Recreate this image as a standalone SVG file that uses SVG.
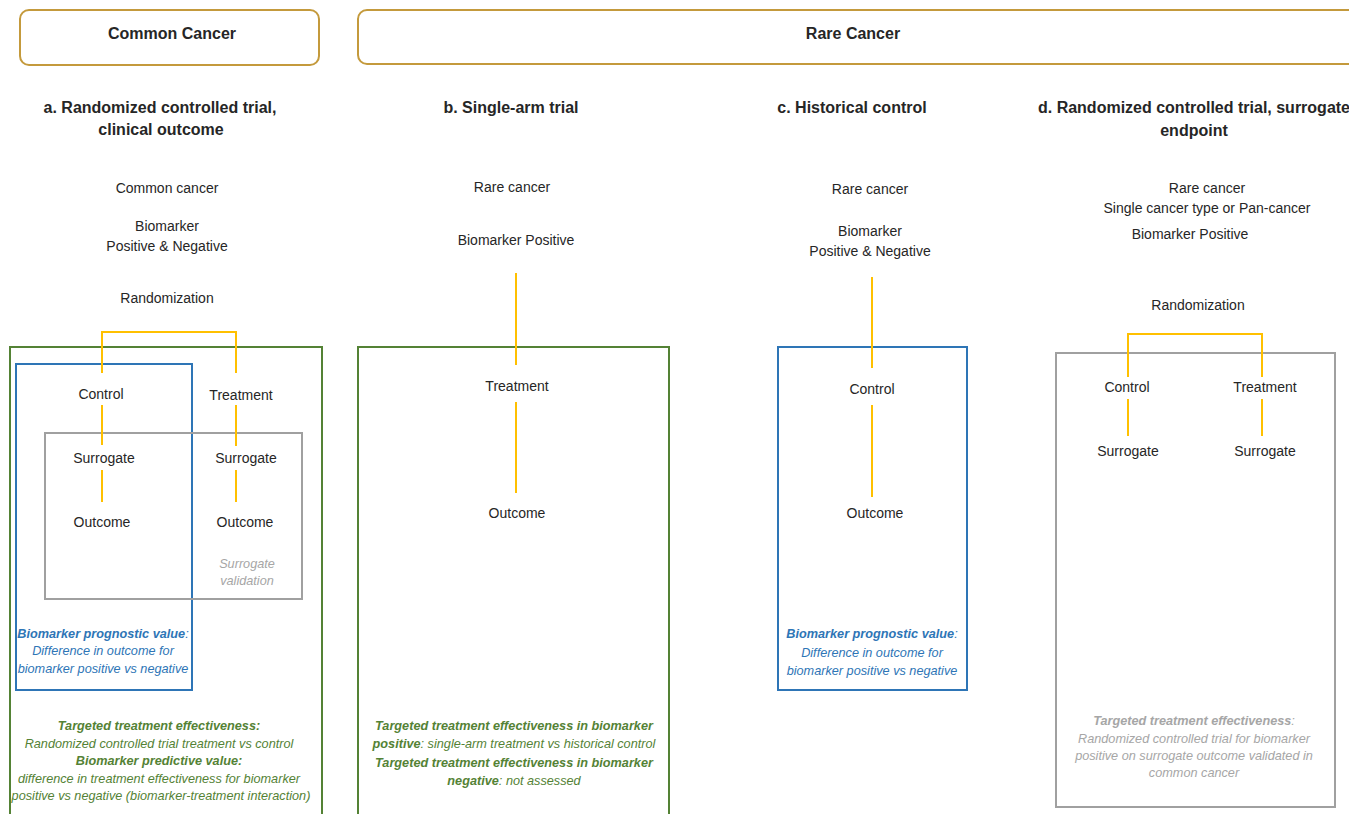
<svg xmlns="http://www.w3.org/2000/svg" width="1349" height="814" viewBox="0 0 1349 814">
<style>
text{font-family:"Liberation Sans",Arial,sans-serif;text-anchor:middle;fill:#262626}
.hd{font-size:16px;font-weight:bold}
.n{font-size:14px}
.an{font-size:12.7px;font-style:italic}
.b{font-weight:bold}
.blue{fill:#2e75b6}
.green{fill:#548235}
.gray{fill:#a6a6a6}
.top{fill:#fff;stroke:#c49a3c;stroke-width:2}
.gbox{fill:none;stroke:#548235;stroke-width:2}
.bbox{fill:none;stroke:#2e75b6;stroke-width:2}
.sbox{fill:none;stroke:#a0a0a0;stroke-width:2}
.con line,.con path{stroke:#ffc000;stroke-width:2;fill:none}
</style>
<rect width="1349" height="814" fill="#fff"/>

<g id="common-cancer-header">
<rect class="top" x="20" y="10" width="299" height="55" rx="9"/>
<text class="hd" x="172" y="39">Common Cancer</text>
</g>
<g id="rare-cancer-header">
<rect class="top" x="358" y="10" width="1010" height="54" rx="9"/>
<text class="hd" x="853" y="39">Rare Cancer</text>
</g>

<g id="titles">
<text class="hd" x="160" y="113">a. Randomized controlled trial,</text>
<text class="hd" x="161" y="135">clinical outcome</text>
<text class="hd" x="511" y="113">b. Single-arm trial</text>
<text class="hd" x="852" y="113">c. Historical control</text>
<text class="hd" x="1194" y="113">d. Randomized controlled trial, surrogate</text>
<text class="hd" x="1194" y="136">endpoint</text>
</g>

<g id="boxes">
<rect id="a-green" class="gbox" x="10" y="347" width="312" height="480"/>
<rect id="a-blue" class="bbox" x="16" y="364" width="176" height="326"/>
<rect id="a-gray" class="sbox" x="45" y="433" width="257" height="166"/>
<rect id="b-green" class="gbox" x="358" y="347" width="311" height="480"/>
<rect id="c-blue" class="bbox" x="778" y="347" width="189" height="343"/>
<rect id="d-gray" class="sbox" x="1056" y="353" width="279" height="454"/>
</g>

<g id="connectors" class="con">
<path d="M102,373 V332 H236 V373"/>
<line x1="102" y1="405" x2="102" y2="445"/>
<line x1="102" y1="470" x2="102" y2="502"/>
<line x1="236" y1="405" x2="236" y2="446"/>
<line x1="236" y1="470" x2="236" y2="502"/>
<line x1="516" y1="273" x2="516" y2="365"/>
<line x1="516" y1="402" x2="516" y2="493"/>
<line x1="872" y1="277" x2="872" y2="368"/>
<line x1="872" y1="405" x2="872" y2="497"/>
<path d="M1128,377 V334 H1262 V377"/>
<line x1="1128" y1="399" x2="1128" y2="436"/>
<line x1="1262" y1="399" x2="1262" y2="436"/>
</g>

<g id="panel-a">
<text class="n" x="167" y="193">Common cancer</text>
<text class="n" x="167" y="231">Biomarker</text>
<text class="n" x="167" y="251">Positive &amp; Negative</text>
<text class="n" x="167" y="303">Randomization</text>
<g id="a-control"><text class="n" x="101" y="399">Control</text></g>
<g id="a-treatment"><text class="n" x="241" y="400">Treatment</text></g>
<g id="a-surrogate-c"><text class="n" x="104" y="463">Surrogate</text></g>
<g id="a-surrogate-t"><text class="n" x="246" y="463">Surrogate</text></g>
<g id="a-outcome-c"><text class="n" x="102" y="527">Outcome</text></g>
<g id="a-outcome-t"><text class="n" x="245" y="527">Outcome</text></g>
<text class="an gray" x="247" y="568">Surrogate</text>
<text class="an gray" x="247" y="585">validation</text>
<text class="an blue" x="103" y="638"><tspan class="b">Biomarker prognostic value</tspan>:</text>
<text class="an blue" x="103" y="655">Difference in outcome for</text>
<text class="an blue" x="103" y="673">biomarker positive vs negative</text>
<text class="an green b" x="159" y="730">Targeted treatment effectiveness:</text>
<text class="an green" x="159" y="748">Randomized controlled trial treatment vs control</text>
<text class="an green b" x="159" y="765">Biomarker predictive value:</text>
<text class="an green" x="159" y="783">difference in treatment effectiveness for biomarker</text>
<text class="an green" x="161" y="800">positive vs negative (biomarker-treatment interaction)</text>
</g>

<g id="panel-b">
<text class="n" x="512" y="192">Rare cancer</text>
<text class="n" x="516" y="245">Biomarker Positive</text>
<g id="b-treatment"><text class="n" x="517" y="391">Treatment</text></g>
<g id="b-outcome"><text class="n" x="517" y="518">Outcome</text></g>
<text class="an green b" x="514" y="730">Targeted treatment effectiveness in biomarker</text>
<text class="an green" x="514" y="748"><tspan class="b">positive</tspan>: single-arm treatment vs historical control</text>
<text class="an green b" x="514" y="767">Targeted treatment effectiveness in biomarker</text>
<text class="an green" x="514" y="785"><tspan class="b">negative</tspan>: not assessed</text>
</g>

<g id="panel-c">
<text class="n" x="870" y="194">Rare cancer</text>
<text class="n" x="870" y="236">Biomarker</text>
<text class="n" x="870" y="256">Positive &amp; Negative</text>
<g id="c-control"><text class="n" x="872" y="394">Control</text></g>
<g id="c-outcome"><text class="n" x="875" y="518">Outcome</text></g>
<text class="an blue" x="872" y="638"><tspan class="b">Biomarker prognostic value</tspan>:</text>
<text class="an blue" x="872" y="657">Difference in outcome for</text>
<text class="an blue" x="872" y="675">biomarker positive vs negative</text>
</g>

<g id="panel-d">
<text class="n" x="1207" y="193">Rare cancer</text>
<text class="n" x="1207" y="213">Single cancer type or Pan-cancer</text>
<text class="n" x="1190" y="239">Biomarker Positive</text>
<text class="n" x="1198" y="310">Randomization</text>
<g id="d-control"><text class="n" x="1127" y="392">Control</text></g>
<g id="d-treatment"><text class="n" x="1265" y="392">Treatment</text></g>
<g id="d-surrogate-c"><text class="n" x="1128" y="456">Surrogate</text></g>
<g id="d-surrogate-t"><text class="n" x="1265" y="456">Surrogate</text></g>
<text class="an gray" x="1194" y="725"><tspan class="b">Targeted treatment effectiveness</tspan>:</text>
<text class="an gray" x="1194" y="743">Randomized controlled trial for biomarker</text>
<text class="an gray" x="1194" y="760">positive on surrogate outcome validated in</text>
<text class="an gray" x="1194" y="777">common cancer</text>
</g>
</svg>
